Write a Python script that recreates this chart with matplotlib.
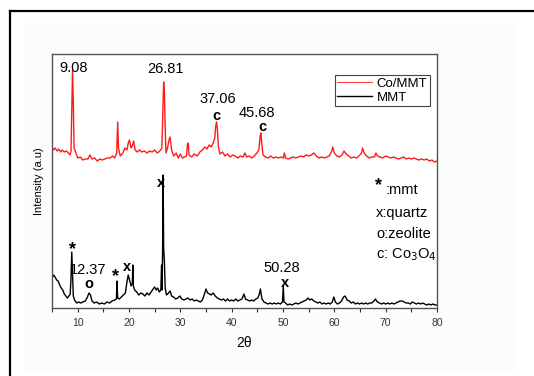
import matplotlib
matplotlib.use('Agg')
import matplotlib.pyplot as plt
from matplotlib.lines import Line2D
from matplotlib.patches import Rectangle

plt.rcParams['font.family'] = ['Liberation Sans', 'DejaVu Sans']

# Co/MMT pattern (2theta, intensity a.u., stacked above MMT)
co_mmt_2theta = [
    5.0, 5.3, 5.6, 6.0, 6.3, 6.7, 7.0, 7.4, 7.8, 8.2, 8.5, 8.7, 8.85, 9.0,
    9.15, 9.3, 9.6, 10.0, 10.5, 11.0, 11.5, 12.0, 12.4, 12.8, 13.3, 13.8,
    14.3, 14.8, 15.3, 15.8, 16.3, 16.8, 17.2, 17.6, 17.8, 17.95, 18.3, 18.8,
    19.2, 19.6, 19.9, 20.1, 20.4, 20.7, 20.9, 21.2, 21.6, 22.0, 22.5, 23.0,
    23.5, 24.0, 24.5, 25.0, 25.5, 26.0, 26.4, 26.6, 26.75, 26.9, 27.05,
    27.2, 27.5, 27.8, 28.0, 28.3, 28.7, 29.2, 29.6, 30.0, 30.4, 30.8, 31.2,
    31.4, 31.55, 31.7, 32.2, 32.7, 33.3, 33.8, 34.3, 34.8, 35.2, 35.6, 36.0,
    36.4, 36.7, 36.9, 37.05, 37.2, 37.4, 37.7, 38.2, 38.7, 39.2, 39.7, 40.2,
    40.7, 41.2, 41.7, 42.2, 42.6, 42.9, 43.4, 43.9, 44.4, 44.9, 45.3, 45.55,
    45.7, 45.85, 46.1, 46.6, 47.1, 47.6, 48.1, 48.6, 49.1, 49.6, 50.1,
    50.25, 50.5, 51.0, 51.5, 52.0, 52.5, 53.0, 53.5, 54.0, 54.5, 55.0, 55.5,
    56.0, 56.5, 57.0, 57.5, 58.0, 58.5, 59.0, 59.5, 59.7, 60.0, 60.5, 61.0,
    61.5, 61.9, 62.3, 62.8, 63.3, 63.8, 64.3, 64.8, 65.3, 65.5, 65.8, 66.3,
    66.8, 67.3, 67.8, 68.1, 68.4, 68.9, 69.4, 70.0, 70.5, 71.0, 71.5, 72.0,
    72.5, 73.0, 73.5, 74.0, 74.5, 75.0, 75.5, 76.0, 76.5, 77.0, 77.5, 78.0,
    78.5, 79.0, 79.5, 80.0,
]
co_mmt_intensity = [
    161, 158, 160, 157, 159, 156, 158, 156, 157, 155, 153, 157, 200, 238,
    205, 160, 156, 150, 151, 148, 149, 149, 153, 149, 150, 147,
    149, 148, 149, 150, 150, 152, 150, 155, 186, 160, 152, 155,
    160, 158, 166, 168, 160, 163, 167, 158, 156, 158, 156, 157,
    155, 157, 156, 158, 155, 157, 160, 200, 226, 215, 180,
    155, 160, 168, 171, 158, 152, 155, 150, 154, 150, 151, 152,
    164, 165, 153, 151, 154, 152, 156, 158, 161, 159, 163, 161,
    165, 170, 182, 186, 180, 162, 154, 156, 152, 154, 151, 153,
    152, 150, 152, 151, 155, 151, 152, 150, 152, 155, 158, 172,
    175, 165, 153, 151, 150, 152, 150, 151, 150, 151, 150,
    155, 150, 149, 150, 151, 150, 151, 152, 151, 153, 152, 153,
    155, 152, 150, 151, 150, 151, 152, 157, 161, 155, 152, 151,
    153, 157, 154, 152, 150, 151, 150, 152, 155, 160, 155, 152,
    150, 151, 151, 155, 152, 151, 150, 152, 151, 150, 151, 150,
    149, 150, 151, 149, 150, 149, 150, 149, 148, 149, 148, 149,
    147, 148, 146, 147,
]

# MMT pattern
mmt_2theta = [
    5.0, 5.3, 5.6, 5.9, 6.2, 6.5, 6.8, 7.1, 7.4, 7.7, 8.0, 8.3, 8.55, 8.7,
    8.85, 9.0, 9.15, 9.4, 9.8, 10.2, 10.6, 11.0, 11.5, 11.9, 12.2, 12.5,
    12.8, 13.2, 13.7, 14.2, 14.7, 15.2, 15.7, 16.2, 16.7, 17.2, 17.55,
    17.65, 17.8, 18.1, 18.5, 18.9, 19.3, 19.6, 19.85, 20.1, 20.4, 20.65,
    20.75, 20.85, 21.1, 21.5, 21.9, 22.3, 22.7, 23.1, 23.5, 23.9, 24.3,
    24.7, 25.0, 25.3, 25.6, 25.9, 26.2, 26.35, 26.45, 26.55, 26.65, 26.75,
    26.9, 27.05, 27.3, 27.7, 28.0, 28.3, 28.7, 29.1, 29.5, 29.9, 30.3,
    30.7, 31.1, 31.5, 31.9, 32.3, 32.7, 33.1, 33.5, 33.9, 34.3, 34.7, 35.0,
    35.3, 35.7, 36.0, 36.4, 36.8, 37.2, 37.6, 38.0, 38.4, 38.8, 39.2, 39.6,
    40.0, 40.4, 40.8, 41.2, 41.6, 42.0, 42.4, 42.7, 43.1, 43.5, 43.9, 44.3,
    44.7, 45.1, 45.4, 45.6, 45.9, 46.3, 46.7, 47.1, 47.5, 47.9, 48.3, 48.7,
    49.1, 49.5, 49.9, 50.05, 50.2, 50.5, 50.9, 51.3, 51.7, 52.1, 52.5, 52.9,
    53.3, 53.7, 54.1, 54.5, 54.9, 55.2, 55.6, 56.0, 56.4, 56.8, 57.2, 57.6,
    58.0, 58.4, 58.8, 59.2, 59.6, 59.9, 60.2, 60.6, 61.0, 61.4, 61.8, 62.1,
    62.5, 62.9, 63.3, 63.7, 64.1, 64.5, 64.9, 65.3, 65.7, 66.1, 66.5, 66.9,
    67.3, 67.7, 68.0, 68.4, 68.8, 69.2, 69.6, 70.0, 70.4, 70.8, 71.2, 71.6,
    72.0, 72.4, 72.8, 73.2, 73.6, 74.0, 74.4, 74.8, 75.2, 75.6, 76.0, 76.4,
    76.8, 77.2, 77.6, 78.0, 78.4, 78.8, 79.2, 79.6, 80.0,
]
mmt_intensity = [
    30, 33, 31, 28, 27, 23, 20, 18, 14, 12, 10, 12, 14, 30,
    56, 35, 12, 8, 5, 6, 5, 6, 7, 11, 15, 13,
    7, 5, 6, 4, 5, 4, 6, 5, 7, 8, 9,
    27, 10, 9, 11, 13, 15, 26, 33, 28, 22, 25,
    43, 22, 18, 16, 13, 15, 14, 12, 15, 13, 16,
    19, 21, 18, 20, 16, 18, 43, 18, 60, 133, 60,
    46, 20, 13, 15, 17, 12, 11, 9, 10, 12, 9,
    8, 9, 10, 8, 9, 7, 8, 7, 6, 8, 14, 19,
    15, 14, 13, 15, 12, 10, 9, 8, 9, 7, 9, 7,
    8, 7, 9, 7, 8, 9, 14, 9, 8, 7, 8, 7,
    9, 10, 14, 19, 9, 6, 5, 4, 5, 4, 5, 4,
    5, 4, 6, 22, 6, 5, 3, 4, 3, 4, 5, 4,
    5, 6, 7, 8, 10, 8, 9, 7, 6, 5, 6, 4,
    5, 4, 5, 4, 6, 11, 6, 4, 5, 7, 11, 12,
    8, 7, 5, 6, 4, 5, 4, 5, 4, 5, 4, 5,
    5, 7, 9, 6, 5, 4, 5, 4, 5, 4, 5, 4,
    5, 6, 7, 7, 6, 5, 5, 4, 6, 5, 4, 5,
    4, 5, 4, 3, 4, 3, 4, 3, 3,
]

# peak labels: (text, 2theta, intensity)
peak_values = [('9.08', 9.3, 240), ('26.81', 27.2, 239), ('37.06', 37.3, 209),
               ('45.68', 44.9, 195), ('12.37', 12.0, 38), ('50.28', 49.8, 40)]
# phase marks: (symbol, 2theta, intensity)
phase_marks = [('c', 37.0, 192), ('c', 45.9, 181), ('x', 26.2, 125),
               ('*', 8.9, 58), ('o', 12.2, 24), ('*', 17.3, 31),
               ('x', 19.6, 41), ('x', 50.4, 25)]
phase_key = [':mmt', 'x:quartz', 'o:zeolite', 'c: Co$_3$O$_4$']


fig = plt.figure(figsize=(5.34, 3.76), dpi=100)

# page frame behind the graph
fig.add_artist(Rectangle((25 / 534, 6 / 376), 490 / 534, 347 / 376,
                         transform=fig.transFigure, color='#fcfcfc', zorder=-2))
fig.add_artist(Line2D([10 / 534, 1], [1 - 11 / 376, 1 - 11 / 376],
                      transform=fig.transFigure, color='black', lw=1.6))
fig.add_artist(Line2D([10 / 534, 10 / 534], [0, 1 - 11 / 376],
                      transform=fig.transFigure, color='black', lw=1.6))

ax = fig.add_axes([52 / 534, 68 / 376, 385 / 534, 254 / 376])
ax.set_facecolor('white')

ax.plot(co_mmt_2theta, co_mmt_intensity, color='#ff1a1a', lw=1.0,
        label='Co/MMT')
ax.plot(mmt_2theta, mmt_intensity, color='black', lw=1.0, label='MMT')

ax.set_xlim(5, 80)
ax.set_ylim(0, 254)
ax.set_xticks(range(10, 81, 10))
ax.set_xticks(range(5, 80, 10), minor=True)
ax.set_yticks([])
ax.tick_params(axis='x', which='both', direction='out', length=3,
               width=0.8, colors='#333333', labelsize=7.5, pad=4)
for s in ax.spines.values():
    s.set_color('#555555')
    s.set_linewidth(1.0)

ax.set_xlabel('2θ', fontsize=10, labelpad=6)
ax.set_ylabel('Intensity (a.u)', fontsize=8, labelpad=6)

for txt, x, y in peak_values:
    ax.text(x, y, txt, fontsize=10.5, ha='center', va='center')
for sym, x, y in phase_marks:
    size = 13 if sym == '*' else 10.5
    ax.text(x, y, sym, fontsize=size, fontweight='bold',
            ha='center', va='center')

# phase key on the right
ax.text(68.7, 122, '*', fontsize=13, fontweight='bold', ha='center',
        va='center')
ax.text(70.0, 118, phase_key[0], fontsize=10.5, ha='left', va='center')
for i, line in enumerate(phase_key[1:]):
    ax.text(68.1, 95 - 21 * i, line, fontsize=10.5, ha='left', va='center')

leg = ax.legend(loc='upper right', bbox_to_anchor=(0.982, 0.917),
                fontsize=9.5, fancybox=False, framealpha=1,
                edgecolor='#444444', borderpad=0.2, labelspacing=0.1,
                handlelength=2.6, handletextpad=0.4, borderaxespad=0)
leg.get_frame().set_linewidth(0.8)
leg.get_lines()[0].set_linewidth(0.6)

fig.savefig('out.png', dpi=100)
plt.close(fig)
